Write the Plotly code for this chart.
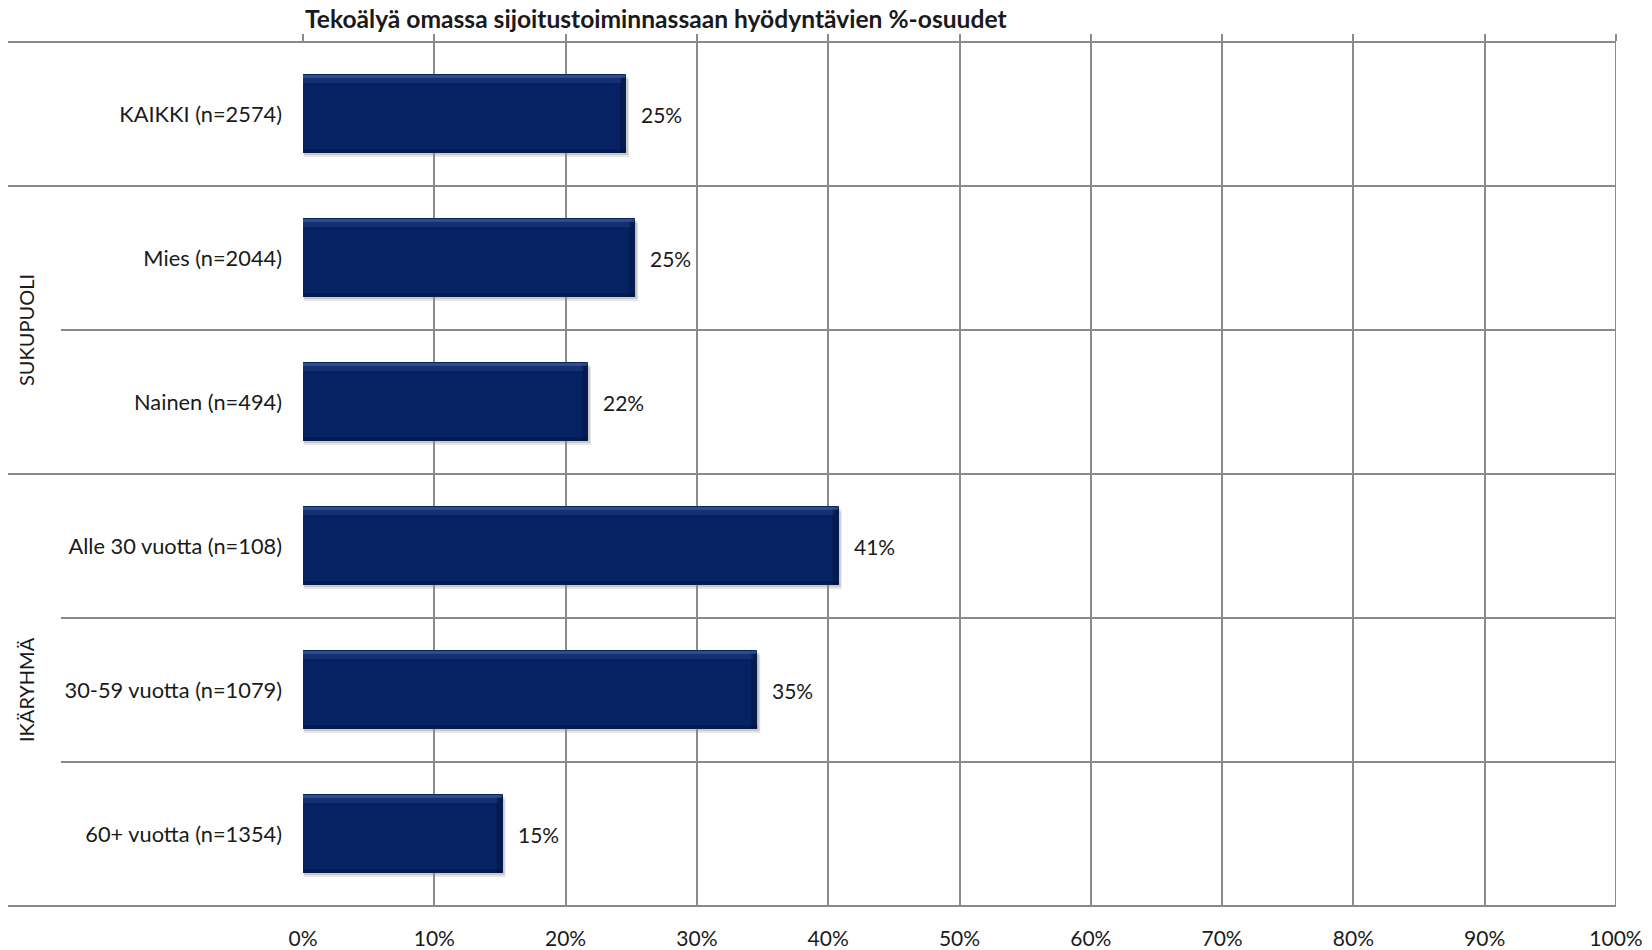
import plotly.graph_objects as go

# ---- data ----
categories = ["KAIKKI (n=2574)", "Mies (n=2044)", "Nainen (n=494)",
              "Alle 30 vuotta (n=108)", "30-59 vuotta (n=1079)", "60+ vuotta (n=1354)"]
values = [24.6, 25.3, 21.7, 40.8, 34.6, 15.2]
value_labels = ["25%", "25%", "22%", "41%", "35%", "15%"]
groups = ["SUKUPUOLI", "IKÄRYHMÄ"]
group_rows = [[1, 2], [3, 4, 5]]
tick_vals = [0, 10, 20, 30, 40, 50, 60, 70, 80, 90, 100]
tick_text = ["0%", "10%", "20%", "30%", "40%", "50%", "60%", "70%", "80%", "90%", "100%"]
title = "Tekoälyä omassa sijoitustoiminnassaan hyödyntävien %-osuudet"

W, H = 1652, 950
L, T = 303, 42
plot_w, plot_h = 1313, 864
R = W - L - plot_w
B = H - T - plot_h
n = len(categories)
FONT = "Lato, 'Open Sans', sans-serif"
GRID = "#8a8a8a"
BAR = "#062262"
TXT = "#1a1a1a"
bar_half = 0.27

ypos = list(range(n))

fig = go.Figure()
fig.add_trace(go.Bar(
    y=ypos, x=values, orientation="h", width=2 * bar_half,
    marker=dict(color=BAR, line=dict(color="#0a275f", width=1)),
    hoverinfo="skip", showlegend=False,
))

shapes = []
px_x = 100.0 / plot_w      # data units per px horizontally
px_y = n / plot_h          # data units per px vertically
for i, v in enumerate(values):
    top = i - bar_half
    bot = i + bar_half
    # soft shadow
    shapes.append(dict(type="rect", xref="x", yref="y", layer="below",
                       x0=1 * px_x, x1=v + 3 * px_x, y0=top + 4 * px_y, y1=bot + 4 * px_y,
                       fillcolor="rgba(0,0,0,0.10)", line=dict(width=0)))
    shapes.append(dict(type="rect", xref="x", yref="y", layer="below",
                       x0=1 * px_x, x1=v + 2 * px_x, y0=top + 2 * px_y, y1=bot + 2 * px_y,
                       fillcolor="rgba(0,0,0,0.12)", line=dict(width=0)))
    # top highlight (gradient-ish)
    shapes.append(dict(type="rect", xref="x", yref="y", layer="above",
                       x0=0, x1=v - 1 * px_x, y0=top, y1=top + 3 * px_y,
                       fillcolor="rgba(80,110,180,0.55)", line=dict(width=0)))
    shapes.append(dict(type="rect", xref="x", yref="y", layer="above",
                       x0=0, x1=v - 4 * px_x, y0=top + 3 * px_y, y1=top + 8 * px_y,
                       fillcolor="rgba(60,90,160,0.25)", line=dict(width=0)))
    # bottom darker edge
    shapes.append(dict(type="rect", xref="x", yref="y", layer="above",
                       x0=0, x1=v, y0=bot - 4 * px_y, y1=bot,
                       fillcolor="rgba(0,10,40,0.30)", line=dict(width=0)))
    # right darker edge
    shapes.append(dict(type="rect", xref="x", yref="y", layer="above",
                       x0=v - 6 * px_x, x1=v, y0=top + 2 * px_y, y1=bot,
                       fillcolor="rgba(0,10,40,0.28)", line=dict(width=0)))

# row separator lines (category axis levels)
long_x0 = (8 - L) / plot_w
short_x0 = (61 - L) / plot_w
long_idx = {0, 1, 3, 6}
for k in range(n + 1):
    yp = 1 - k / n
    shapes.append(dict(type="line", xref="paper", yref="paper",
                       x0=long_x0 if k in long_idx else short_x0, x1=1,
                       y0=yp, y1=yp, line=dict(color=GRID, width=2)))
# 100% edge line
shapes.append(dict(type="line", xref="x", yref="paper", x0=100, x1=100, y0=0, y1=1,
                   line=dict(color=GRID, width=2)))

annotations = []
for i, (v, lab) in enumerate(zip(values, value_labels)):
    annotations.append(dict(x=v, y=i, xref="x", yref="y", text=lab, showarrow=False,
                            xanchor="left", xshift=13, font=dict(family=FONT, size=21, color=TXT)))
for g, rows in zip(groups, group_rows):
    center = (rows[0] + rows[-1]) / 2
    annotations.append(dict(x=(26 - L) / plot_w, y=1 - (center + 0.5) / n, xref="paper", yref="paper",
                            text=g, showarrow=False, textangle=-90, xanchor="center", yanchor="middle",
                            font=dict(family=FONT, size=20, color=TXT)))
annotations.append(dict(x=0, y=1, xref="paper", yref="paper", yshift=24, text="<b>" + title + "</b>",
                        showarrow=False, xanchor="left", yanchor="middle",
                        font=dict(family=FONT, size=24.6, color=TXT)))

fig.update_layout(
    width=W, height=H,
    margin=dict(l=L, r=R, t=T, b=B, pad=0, autoexpand=False),
    paper_bgcolor="white", plot_bgcolor="white",
    shapes=shapes, annotations=annotations,
    bargap=0,
    xaxis=dict(range=[0, 100], tickvals=tick_vals, ticktext=tick_text, automargin=False,
               showgrid=True, gridcolor=GRID, gridwidth=2, zeroline=False, showline=False,
               ticks="", ticklabelstandoff=18,
               tickfont=dict(family=FONT, size=21, color=TXT), fixedrange=True),
    xaxis2=dict(range=[0, 100], tickvals=tick_vals, overlaying="x", side="top", automargin=False,
                showgrid=False, zeroline=False, showline=False, ticks="outside", ticklen=7,
                tickwidth=2, tickcolor=GRID, showticklabels=False),
    yaxis=dict(range=[n - 0.5, -0.5], tickvals=ypos, ticktext=categories, automargin=False,
               showgrid=False, zeroline=False, showline=False, ticks="",
               ticklabelstandoff=20,
               tickfont=dict(family=FONT, size=21.8, color=TXT), fixedrange=True),
)
# invisible trace to activate xaxis2
fig.add_trace(go.Scatter(x=[0, 100], y=[0, 0], xaxis="x2", mode="markers",
                         marker=dict(opacity=0), hoverinfo="skip", showlegend=False))

fig.write_html("out.html", config={"displayModeBar": False},
               post_script="document.body.style.margin='0';document.body.style.overflow='hidden';")
